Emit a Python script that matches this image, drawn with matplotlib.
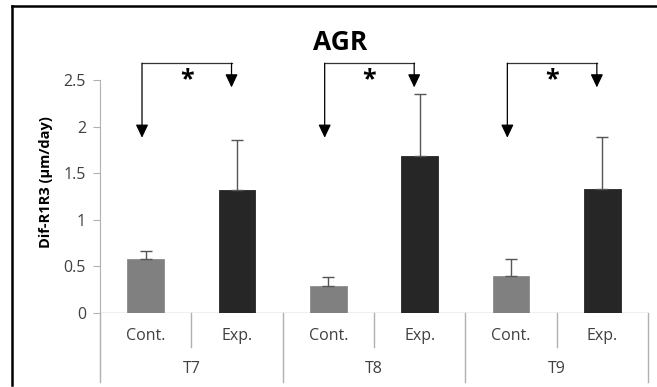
import numpy as np
import matplotlib
matplotlib.use('Agg')
from matplotlib import pyplot as plt
from matplotlib.lines import Line2D

plt.rcParams['font.family'] = ['Open Sans', 'DejaVu Sans']

# data
groups = ['T7', 'T8', 'T9']
conditions = ['Cont.', 'Exp.']
cont_vals = [0.58, 0.29, 0.40]
cont_err = [0.09, 0.10, 0.18]
exp_vals = [1.32, 1.68, 1.33]
exp_err = [0.54, 0.67, 0.56]
# bracket levels (left arrow tip, right arrow tip, top line)
arrow_left_tip = 1.88
arrow_right_tip = 2.42
bracket_top = 2.68
star_level = 2.5

fig = plt.figure(figsize=(6.57, 3.87), dpi=100)
ax = fig.add_axes([100/657, 74/387, 548/657, 261/387])

x_cont = np.arange(len(groups)) * 2
x_exp = x_cont + 1
w = 0.4

ax.bar(x_cont, cont_vals, w, color='#808080', edgecolor='#8c8c8c', linewidth=0.6, zorder=2)
ax.bar(x_exp, exp_vals, w, color='#262626', edgecolor='#262626', linewidth=0.6, zorder=2)
ax.errorbar(x_cont, cont_vals, yerr=[np.zeros(3), cont_err], fmt='none', ecolor='#555555', elinewidth=1, capsize=4, zorder=3)
ax.errorbar(x_exp, exp_vals, yerr=[np.zeros(3), exp_err], fmt='none', ecolor='#555555', elinewidth=1, capsize=4, zorder=3)

ax.set_xlim(-0.5, 5.5)
ax.set_ylim(0, 2.8)
ax.set_yticks([0, 0.5, 1, 1.5, 2, 2.5])
ax.set_yticklabels(['0', '0.5', '1', '1.5', '2', '2.5'], fontsize=11.5, color='#404040')
ax.set_xticks([])
for s in ['top', 'right', 'bottom']:
    ax.spines[s].set_visible(False)
ax.spines['left'].set_bounds(0, 2.5)
ax.spines['left'].set_color('#b0b0b0')
ax.tick_params(axis='y', length=5, color='#b0b0b0', pad=5)
ax.axhline(0, color='#b0b0b0', linewidth=1, zorder=1)

ax.set_ylabel('Dif-R1R3 (µm/day)', fontsize=10.5, fontweight='bold', labelpad=8)

# category axis with dividers
for i in range(7):
    xd = i - 0.5
    bottom = -0.74 if i % 2 == 0 else -0.365
    ax.add_line(Line2D([xd, xd], [0, bottom], color='#b0b0b0', linewidth=1, clip_on=False))
for i, xc in enumerate(np.arange(6)):
    ax.text(xc, -0.25, conditions[i % 2], ha='center', va='center', fontsize=11.5, color='#404040')
for g, xc in zip(groups, x_cont + 0.5):
    ax.text(xc, -0.6, g, ha='center', va='center', fontsize=11.5, color='#404040')

# significance brackets
aprops = dict(arrowstyle='-|>,head_length=0.8,head_width=0.38', color='black', lw=0.9, shrinkA=0, shrinkB=0)
for xl, xr in zip(x_cont - 0.04, x_exp - 0.06):
    ax.add_line(Line2D([xl, xr], [bracket_top, bracket_top], color='#333333', linewidth=0.9, clip_on=False))
    ax.annotate('', xy=(xl, arrow_left_tip), xytext=(xl, bracket_top), arrowprops=aprops, annotation_clip=False)
    ax.annotate('', xy=(xr, arrow_right_tip), xytext=(xr, bracket_top), arrowprops=aprops, annotation_clip=False)
    ax.text((xl + xr) / 2, star_level, '*', ha='center', va='center', fontsize=18, fontweight='bold')

fig.text(340/657, 1 - 42/387, 'AGR', ha='center', va='center', fontsize=19, fontweight='bold')

# outer frame (left and top edges visible)
fig.add_artist(Line2D([12/657, 12/657], [0.005, 1 - 6/387], color='black', linewidth=1.8, transform=fig.transFigure))
fig.add_artist(Line2D([12/657, 1.0], [1 - 6/387, 1 - 6/387], color='black', linewidth=1.8, transform=fig.transFigure))

fig.savefig('out.png', dpi=100)
